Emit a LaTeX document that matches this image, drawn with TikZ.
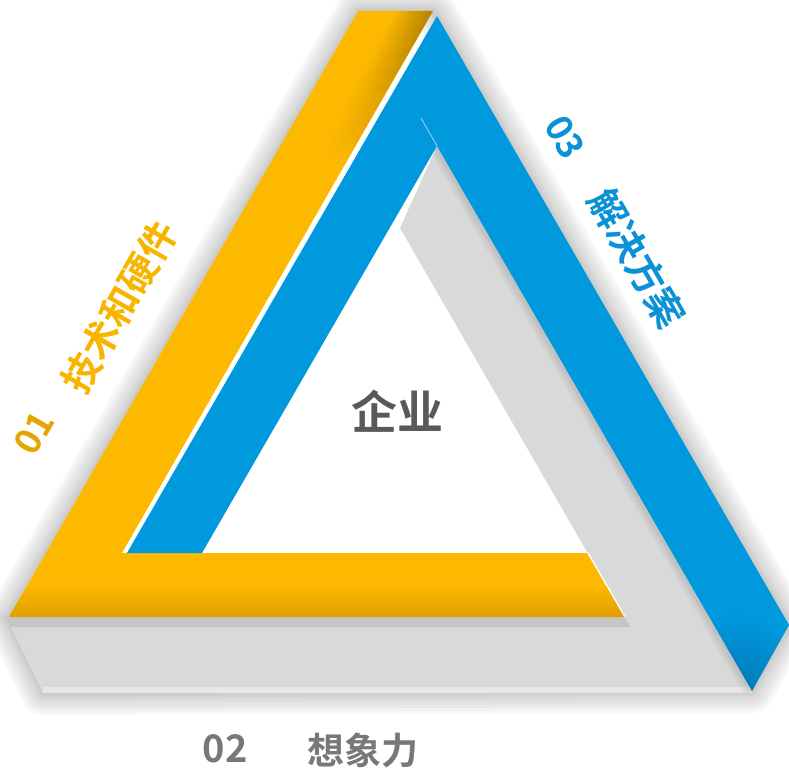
\documentclass[tikz,border=0pt]{standalone}
\usepackage{fontspec}
\newfontfamily\cjk{Noto Sans CJK SC}[BoldFont={Noto Sans CJK SC Bold}]
\usetikzlibrary{fadings,calc}

\definecolor{tyellow}{HTML}{FDB900}
\definecolor{tyellowdk}{HTML}{DE9E00}
\definecolor{tblue}{HTML}{0099DE}
\definecolor{tbluedk}{HTML}{00609A}
\definecolor{tgrey}{HTML}{D9D9D9}
\definecolor{tgreydk}{HTML}{C6C6C6}
\definecolor{ylabel}{HTML}{F7B500}
\definecolor{blabel}{HTML}{0B91D6}
\definecolor{glabel}{HTML}{787878}
\definecolor{clabel}{HTML}{595959}

\tikzfading[name=fadedown, top color=transparent!0, bottom color=transparent!100]
\tikzfading[name=tipfade, inner color=transparent!20, outer color=transparent!100]

\tikzset{
  label/.style={inner sep=0pt, font=\cjk\bfseries\fontsize{#1}{#1}\selectfont},
  halo/.style={draw=black, line join=round, draw opacity=0.028, line width=#1},
}

\begin{document}
\begin{tikzpicture}[x=1pt, y=-1pt]
\useasboundingbox (0,0) rectangle (789,770);

% corner points of the three bands
\coordinate (Y1) at (9,617);   \coordinate (Y2) at (358,11);
\coordinate (Y3) at (433,11);  \coordinate (Y4) at (122,553);
\coordinate (Y5) at (587,553); \coordinate (Y6) at (624,617);
\coordinate (B1) at (437,16);  \coordinate (B2) at (789,625);
\coordinate (B3) at (752,691); \coordinate (B4) at (437,146);
\coordinate (B5) at (202,553); \coordinate (B6) at (127,553);
\coordinate (G1) at (6,617);   \coordinate (G2) at (43,693);
\coordinate (G3) at (752,693); \coordinate (G4) at (470,110);
\coordinate (G5) at (437,146); \coordinate (G6) at (400,228);
\coordinate (G7) at (624.6,617);

% soft drop shadow around the whole figure
\foreach \w in {44,38,32,26,20,14,9,5}
  \path[halo=\w] (Y1) -- (Y2) -- (Y3) -- (B1) -- (B2) -- (B3) -- (G2) -- (G1) -- cycle;

% grey band (back)
\fill[tgrey] (G1) -- (G2) -- (G3) -- (G4) -- (G5) -- (G6) -- (G7) -- cycle;
\fill[tgreydk] (G1) -- (G7) -- (630,627) -- (11,627) -- cycle;
\fill[black!4, opacity=0.5] (43,687) rectangle (752,693);
\begin{scope}
  \clip (G1) -- (G2) -- (G3) -- (G4) -- (G5) -- (G6) -- (G7) -- cycle;
  \foreach \w in {18,12,7}
    \draw[black, opacity=0.035, line width=\w] (B4) -- (B3);
\end{scope}

% yellow band
\draw[white, line width=3] (Y5) -- (Y6);
\fill[tyellow] (Y1) -- (Y2) -- (Y3) -- (Y4) -- (Y5) -- (Y6) -- cycle;
\begin{scope}
  \clip (Y1) -- (Y2) -- (Y3) -- (Y4) -- (Y5) -- (Y6) -- cycle;
  \shade[top color=tyellow, bottom color=tyellowdk] (0,585) rectangle (640,618);
  % shadow cast by the blue band, strongest near the apex
  \foreach \w in {64,56,48,40,32,24,16,8}
    \draw[black, opacity=0.045, line width=\w, line cap=round, path fading=fadedown]
      ($(B1)+(0,-12)$) -- ($(B1)!0.24!(B6)$);
  \draw[black!25, line width=3.5] (B6) -- (B1);
\end{scope}

% blue band (front)
\fill[tblue] (B1) -- (B2) -- (B3) -- (B4) -- (B5) -- (B6) -- cycle;
\begin{scope}
  \clip (B1) -- (B2) -- (B3) -- (B4) -- (B5) -- (B6) -- cycle;
  \fill[tbluedk, path fading=tipfade, opacity=0.7] (735,690) circle (75);
\end{scope}
\draw[white, opacity=0.6, line width=0.8] (B4) -- (421,118);

% labels
\node[label=38, ylabel, rotate=60] (t1) at (120,307) {技术和硬件};
\node[label=36, ylabel!92!black, rotate=60] (n1) at (34,433) {01};
\node[label=38, blabel, rotate=-60] (t3) at (637,258) {解决方案};
\node[label=36, blabel, rotate=-60] (n3) at (565,137) {03};
\node[label=38, glabel] (n2) at (225,749) {02};
\node[label=37, glabel] (t2) at (363,750) {想象力};
\node[label=46, clabel] (c) at (397,411) {企业};
\end{tikzpicture}
\end{document}
